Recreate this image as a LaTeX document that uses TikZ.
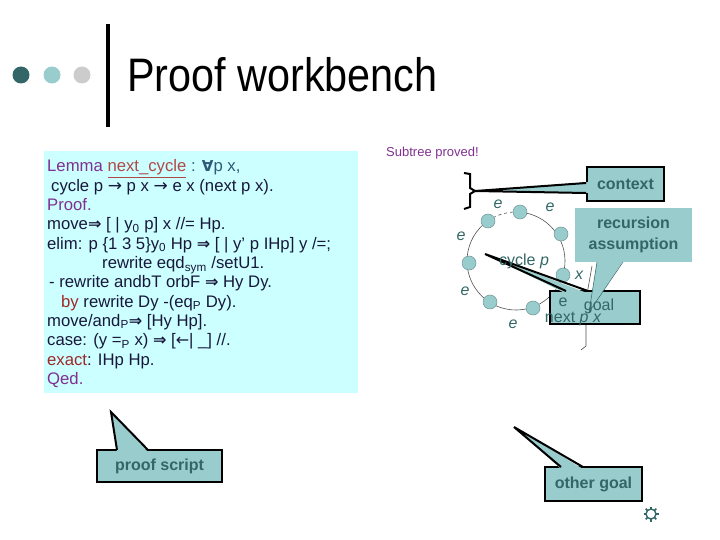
\documentclass[tikz,border=0pt]{standalone}
\usepackage{fontspec}
\setmainfont{Liberation Sans}
\newfontfamily\symf{DejaVu Sans}
\usepackage{graphicx}
\definecolor{codecyan}{RGB}{204,255,255}
\definecolor{calfill}{RGB}{153,204,204}
\definecolor{caltext}{RGB}{51,102,102}
\definecolor{darkteal}{RGB}{51,102,102}
\definecolor{lightteal}{RGB}{153,204,204}
\definecolor{lightgrey}{RGB}{204,204,204}
\definecolor{lemmapurple}{RGB}{128,48,144}
\definecolor{nextred}{RGB}{176,72,72}
\definecolor{bykw}{RGB}{160,40,40}
\definecolor{codetext}{RGB}{24,24,60}
\definecolor{forallc}{RGB}{47,90,120}
\definecolor{cycleline}{RGB}{80,80,80}
\newcommand{\dar}{{\symf\bfseries\fontsize{16}{16}\selectfont ⇒}}
\newcommand{\sar}{{\symf\fontsize{17}{16}\selectfont →}}
\newcommand{\lar}{{\symf\fontsize{16}{16}\selectfont ←}}
\newcommand{\fa}{{\symf\bfseries\fontsize{15}{15}\selectfont ∀}}
\begin{document}
\begin{tikzpicture}[x=1pt,y=-1pt,
  codeline/.style={anchor=base west,inner sep=0pt,font=\fontsize{16.7}{16}\selectfont,text=codetext},
  calbox/.style={fill=calfill,draw=black,line width=2pt,inner sep=0pt,text=caltext,font=\bfseries\fontsize{16}{19}\selectfont,align=center},
  caltail/.style={fill=calfill},
  taledge/.style={draw=black,line width=2pt,line join=miter},
  cyclenode/.style={circle,fill=lightteal,draw=darkteal!70,line width=0.5pt,minimum size=14pt,inner sep=0pt},
  elabel/.style={text=darkteal,font=\itshape\fontsize{16}{16}\selectfont,inner sep=0pt},
  titledot/.style={circle,minimum size=17pt,inner sep=0pt}]
\useasboundingbox (0,0) rectangle (720,540);
% title
\node[titledot,fill=darkteal] (d1) at (21,75) {};
\node[titledot,fill=lightteal] (d2) at (52,75) {};
\node[titledot,fill=lightgrey] (d3) at (82,75) {};
\coordinate (bartop) at (108,24);
\coordinate (barbot) at (108,127);
\draw[line width=4pt] (bartop) -- (barbot);
\node[anchor=base west,inner sep=0pt] (title) at (127,92) {\scalebox{0.88}[1]{\fontsize{47}{47}\selectfont Proof workbench}};
% code box
\node[fill=codecyan,anchor=north west,minimum width=314pt,minimum height=242pt,inner sep=0pt] (codebox) at (44,151) {};
\node[codeline] (l1) at (47,172) {{\color{lemmapurple}Lemma} {\color{nextred}\underline{next\_cycle}} {\color{forallc}: \fa p x,}};
\node[codeline] (l2) at (51,191.3) {cycle p \sar{} p x \sar{} e x (next p x).};
\node[codeline,text=lemmapurple] (l3) at (47,210.6) {Proof.};
\node[codeline] (l4) at (47,229.9) {move\dar{} [ | y\textsubscript{0} p] x //= Hp.};
\node[codeline] (l5) at (47,249.2) {elim: p \{1 3 5\}y\textsubscript{0} Hp \dar{} [ | y' p IHp] y /=;};
\node[codeline] (l6) at (102,268.5) {rewrite eqd\textsubscript{sym} /setU1.};
\node[codeline] (l7) at (49,287.8) {- rewrite andbT orbF \dar{} Hy Dy.};
\node[codeline] (l8) at (61,307.1) {{\color{bykw}by} rewrite Dy -(eq\textsubscript{P} Dy).};
\node[codeline] (l9) at (47,326.4) {move/and\textsubscript{P}\dar{} [Hy Hp].};
\node[codeline] (l10) at (47,345.7) {case: (y =\textsubscript{P} x) \dar{} [\lar| \_] //.};
\node[codeline] (l11) at (47,365) {{\color{bykw}exact}: IHp Hp.};
\node[codeline,text=lemmapurple] (l12) at (47,384.3) {Qed.};
% subtree proved
\node[anchor=base west,inner sep=0pt,text=lemmapurple,font=\fontsize{13}{13}\selectfont] (subtree) at (386,157) {Subtree proved!};
% brace
\coordinate (bracetip) at (475,191);
\draw[line width=2pt,line join=miter] (464,173) -- (470,174) -- (470,188) -- (bracetip) -- (470,194) -- (470,207) -- (464,209);
% context callout
\node[calbox,minimum width=77pt,minimum height=34pt] (ctx) at (625.5,184) {context};
\fill[caltail] (bracetip) -- (590,182) -- (590,193) -- cycle;
\draw[taledge] (ctx.west |- 0,183) -- (bracetip) -- (ctx.west |- 0,193);
% cycle
\coordinate (cc) at (516,261);
\draw[cycleline,line width=0.6pt] (cc) ++(-85:49) arc[start angle=-85,end angle=235,radius=49];
\draw[cycleline,line width=0.6pt,dash pattern=on 3pt off 3pt] (cc) ++(-125:49) arc[start angle=-125,end angle=-85,radius=49];
\node[cyclenode] (n1) at (488,221) {};
\node[cyclenode] (n2) at (520,212) {};
\node[cyclenode] (n3) at (561,234) {};
\node[cyclenode] (n4) at (563,275) {};
\node[cyclenode] (n5) at (533,308) {};
\node[cyclenode] (n6) at (490,302) {};
\node[cyclenode] (n7) at (469,263) {};
\node[elabel] (e1) at (498,204) {e};
\node[elabel] (e2) at (550,207) {e};
\node[elabel] (e3) at (461,236) {e};
\node[elabel] (e4) at (465,291) {e};
\node[elabel] (e5) at (513,324) {e};
\node[elabel] (xl) at (579,275) {x};
% thin vertical line
\coordinate (vt) at (592,266);
\coordinate (vb) at (581,350);
\draw[cycleline,line width=0.6pt] (vt) -- (586,300) -- (586,346) -- (vb);
% goal callout
\node[calbox,minimum width=90pt,minimum height=33pt] (goal) at (595,307.5) {};
\coordinate (goaltip) at (485,254);
\fill[caltail] (goaltip) -- (587,293) -- (565,293) -- cycle;
\draw[taledge] (566,291) -- (goaltip) -- (588,291);
% recursion assumption callout
\node[fill=calfill,text=caltext,font=\bfseries\fontsize{16}{21}\selectfont,align=center,minimum width=117pt,minimum height=54pt,inner sep=0pt] (rec) at (633.5,235) {recursion\\assumption};
\fill[caltail] (597,261) -- (589,312) -- (623,261) -- cycle;
\draw[darkteal,line width=0.5pt] (597,262) -- (589,312) -- (623,262);
\node[elabel] (cyc) at (524,261) {\upshape cycle \itshape p};
\node[text=caltext,inner sep=0pt,font=\fontsize{16}{16}\selectfont] (ge) at (563,302) {e};
\node[text=caltext,inner sep=0pt,font=\fontsize{16}{16}\selectfont] (gg) at (599,306) {goal};
\node[text=caltext,inner sep=0pt,font=\fontsize{16}{16}\selectfont] (gn) at (573,319) {next \itshape p x};
% proof script callout
\node[calbox,minimum width=125pt,minimum height=32pt] (ps) at (159.5,466) {proof script};
\coordinate (pstip) at (111,412);
\fill[caltail] (pstip) -- (148,452) -- (117,452) -- cycle;
\draw[taledge] (117,450) -- (pstip) -- (148,450);
% other goal callout
\node[calbox,minimum width=97pt,minimum height=34pt] (og) at (593.5,484) {other goal};
\coordinate (ogtip) at (514,427);
\fill[caltail] (ogtip) -- (583,469) -- (561,469) -- cycle;
\draw[taledge] (561,467) -- (ogtip) -- (583,467);
% sun icon
\node[circle,draw=darkteal,line width=1.4pt,minimum size=10pt,inner sep=0pt] (sun) at (651,514) {};
\foreach \a in {0,45,...,315} \draw[darkteal,line width=1.6pt] (sun.center) ++(\a:5) -- ++(\a:2.5);
\end{tikzpicture}
\end{document}
